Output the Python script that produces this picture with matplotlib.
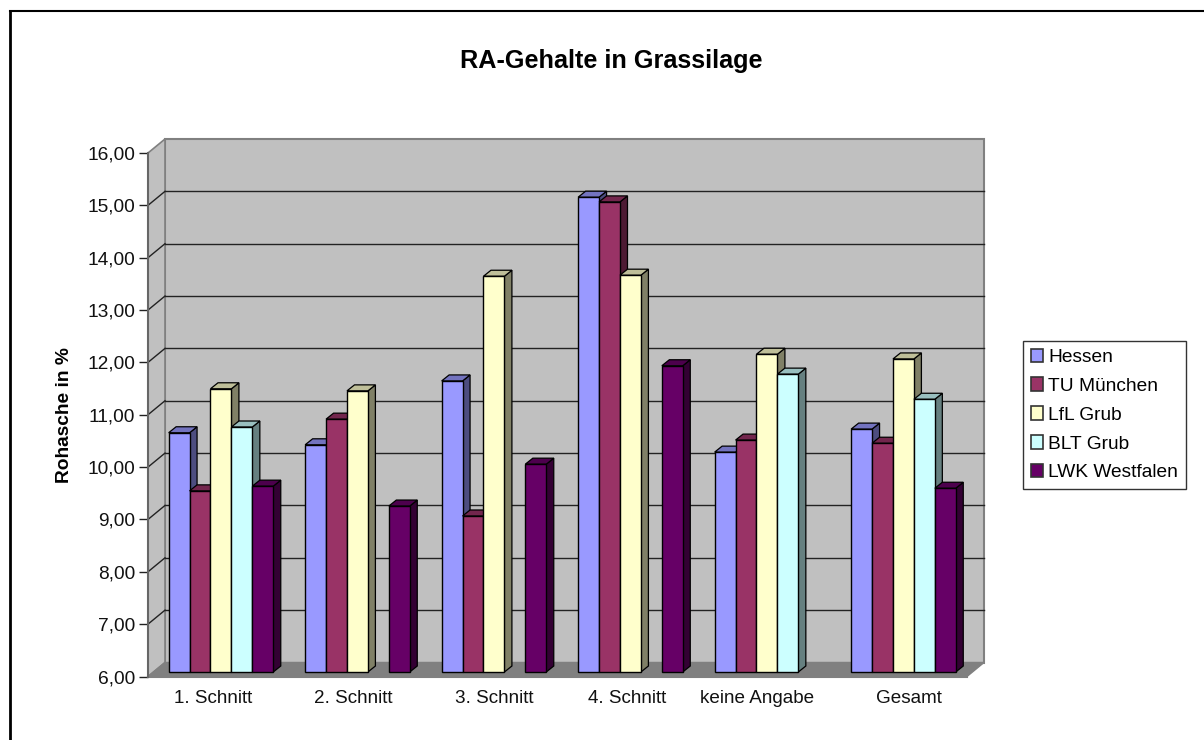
import matplotlib
matplotlib.use('Agg')
import matplotlib.pyplot as plt
from matplotlib.patches import Polygon, Rectangle
from matplotlib.transforms import Affine2D
import numpy as np

plt.rcParams['font.family'] = ['Liberation Sans', 'DejaVu Sans']

categories = ['1. Schnitt', '2. Schnitt', '3. Schnitt', '4. Schnitt', 'keine Angabe', 'Gesamt']
series_names = ['Hessen', 'TU München', 'LfL Grub', 'BLT Grub', 'LWK Westfalen']
hessen = [10.57, 10.34, 11.56, 15.07, 10.20, 10.64]
tu_muenchen = [9.46, 10.83, 8.98, 14.98, 10.43, 10.37]
lfl_grub = [11.41, 11.37, 13.56, 13.58, 12.07, 11.98]
blt_grub = [10.68, np.nan, np.nan, np.nan, 11.69, 11.21]
lwk_westfalen = [9.55, 9.17, 9.97, 11.85, np.nan, 9.51]
yticks = [6, 7, 8, 9, 10, 11, 12, 13, 14, 15, 16]

series = [hessen, tu_muenchen, lfl_grub, blt_grub, lwk_westfalen]
colors = ['#9999FF', '#993366', '#FFFFCC', '#CCFFFF', '#660066']
# the category labels are not quite centred under their groups (pixels)
label_nudge = [-3.25, 0.75, 5.25, 1.25, -4.75, 10]

W, H = 1204, 740
fig = plt.figure(figsize=(W / 100, H / 100), dpi=100, facecolor='white')


def axes_box(left, top, right, bottom):
    return [left / W, 1 - bottom / H, (right - left) / W, (bottom - top) / H]


# outer chart frame, only the top and left edges fall inside the image
fig.add_artist(plt.Line2D([10 / W, 10 / W], [0, 1 - 11 / H], color='black', lw=2,
                          solid_capstyle='projecting'))
fig.add_artist(plt.Line2D([10 / W, 1], [1 - 11 / H, 1 - 11 / H], color='black', lw=1.5,
                          solid_capstyle='projecting'))

ax = fig.add_axes(axes_box(148, 153, 967, 676.5))
ax.set_xlim(0, 6)
ax.set_ylim(6, 16)
ax.patch.set_visible(False)
for s in ['top', 'right', 'bottom']:
    ax.spines[s].set_visible(False)
ax.spines['left'].set_color('#666666')
ax.spines['left'].set_linewidth(1.5)

# the back plane and the floor sit behind the front plane by this many pixels
depth_x, depth_y = 17, 14
back = ax.transData + Affine2D().translate(depth_x, depth_y)
wall_grey = '#C0C0C0'
edge_grey = '#808080'


def to_px(x, y):
    return ax.transData.transform((x, y))


p00 = to_px(0, 6)
p60 = to_px(6, 6)
p01 = to_px(0, 16)
d = np.array([depth_x, depth_y])

ax.add_patch(Rectangle((0, 6), 6, 10, transform=back, facecolor=wall_grey,
                       edgecolor=edge_grey, lw=1.5, zorder=1, clip_on=False))
ax.add_patch(Polygon([p00, p01, p01 + d, p00 + d], closed=True, transform=None, facecolor=wall_grey,
                     edgecolor=edge_grey, lw=1.2, zorder=1, clip_on=False))
ax.add_patch(Polygon([p00, p60, p60 + d, p00 + d], closed=True, transform=None, facecolor=edge_grey,
                     edgecolor=edge_grey, lw=1, zorder=1.5, clip_on=False))
ax.plot([0, 6], [6, 6], color='#808080', lw=1.5, zorder=1.6, clip_on=False)

# gridlines run over the back wall and along the side wall
for t in yticks[1:-1]:
    ax.plot([0, 6], [t, t], transform=back, color='#222222', lw=1, zorder=2, clip_on=False)
    a = to_px(0, t)
    ax.plot([a[0], a[0] + depth_x], [a[1], a[1] + depth_y], transform=None, color='#222222',
            lw=1, zorder=2, clip_on=False)

bar_w = 0.1533
bar_depth = np.array([7.5, 6])
front = ax.transData + Affine2D().translate(4.7, 4.5)
front_shift = np.array([4.7, 4.5])


def shade(color, f):
    rgb = np.array(matplotlib.colors.to_rgb(color))
    return tuple(rgb * f)


z = 3
handles = []
for i in range(len(categories)):
    for j, vals in enumerate(series):
        v = vals[i]
        if np.isnan(v):
            continue
        x0 = i + 0.5 + (j - 2.5) * bar_w
        x1 = x0 + bar_w
        lo = to_px(x1, 6) + front_shift
        hi = to_px(x1, v) + front_shift
        hi_l = to_px(x0, v) + front_shift
        ax.add_patch(Polygon([lo, hi, hi + bar_depth, lo + bar_depth], closed=True, transform=None,
                             facecolor=shade(colors[j], 0.5), edgecolor='black', lw=0.9, zorder=z,
                             clip_on=False))
        ax.add_patch(Polygon([hi_l, hi, hi + bar_depth, hi_l + bar_depth], closed=True, transform=None,
                             facecolor=shade(colors[j], 0.75), edgecolor='black', lw=0.9, zorder=z,
                             clip_on=False))
        ax.bar(x0, v - 6, bottom=6, width=bar_w, align='edge', color=colors[j], edgecolor='black',
               lw=1, transform=front, zorder=z + 0.5, clip_on=False)
        z += 1

for j, name in enumerate(series_names):
    handles.append(Rectangle((0, 0), 1, 1, facecolor=colors[j], edgecolor='#333333', lw=1.2, label=name))

ax.set_xlim(0, 6)
ax.set_ylim(6, 16)
ax.set_yticks(yticks)
ax.set_yticklabels(['{:.2f}'.format(t).replace('.', ',') for t in yticks], fontsize=13.8, color='#111111')
ax.tick_params(axis='y', length=6.5, width=1, color='#222222', pad=2.8)
ax.set_xticks(np.arange(6) + 0.5)
ax.set_xticklabels(categories, fontsize=13.6, color='#111111')
ax.tick_params(axis='x', length=0, pad=10)
for lab, nudge in zip(ax.get_xticklabels(), label_nudge):
    lab.set_transform(lab.get_transform() + Affine2D().translate(nudge, 0))

fig.text(611 / W, 1 - 61 / H, 'RA-Gehalte in Grassilage', fontsize=18.2, fontweight='bold',
         ha='center', va='center')
fig.text(64.5 / W, 1 - 415.5 / H, 'Rohasche in %', fontsize=13.8, fontweight='bold', rotation=90,
         ha='center', va='center')

leg = fig.legend(handles=handles, loc='upper left', bbox_to_anchor=(1023 / W, 1 - 341 / H), fontsize=13.8,
                 frameon=True, fancybox=False, edgecolor='#333333', framealpha=1, borderpad=0.4,
                 handlelength=0.62, handleheight=0.7, handletextpad=0.3, labelspacing=0.595,
                 borderaxespad=0)
leg.get_frame().set_linewidth(1)

fig.savefig('out.png', dpi=100)
